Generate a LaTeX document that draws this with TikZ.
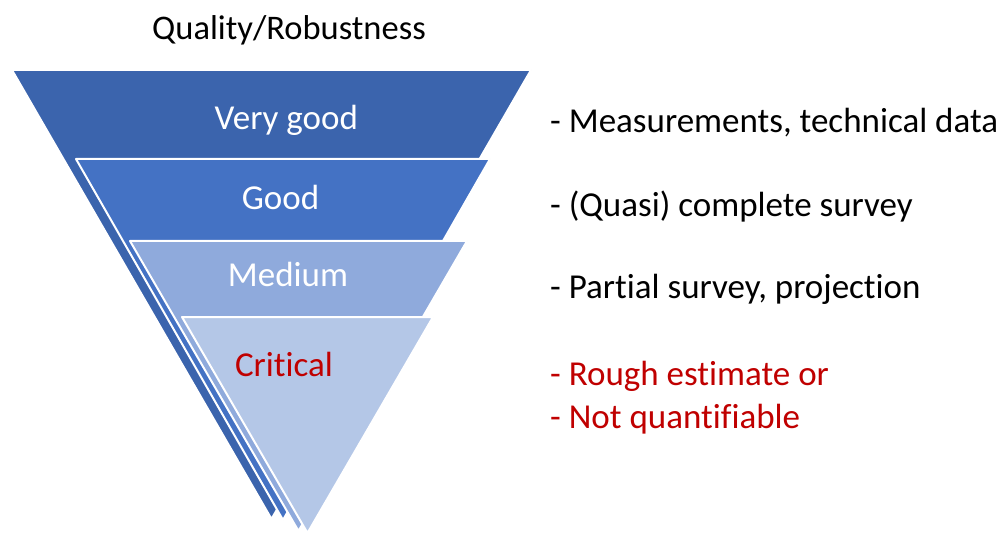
\documentclass[tikz,border=0pt]{standalone}
\usepackage{fontspec}
\setmainfont{Carlito}[Ligatures=NoCommon]
\definecolor{cA}{HTML}{3B64AD}
\definecolor{cB}{HTML}{4472C4}
\definecolor{cC}{HTML}{8FAADC}
\definecolor{cD}{HTML}{B4C7E7}
\definecolor{cRed}{HTML}{C00000}
\tikzset{
  tri/.style={draw=white, line width=2pt, line join=round},
  lvl/.style={anchor=base, inner sep=0pt, font=\fontsize{35}{42}\selectfont},
  desc/.style={anchor=base west, inner sep=0pt, font=\fontsize{35}{42}\selectfont},
}
\begin{document}
\begin{tikzpicture}[x=1pt,y=-1pt]
\useasboundingbox (0,0) rectangle (1000,534);
\fill[white] (0,0) rectangle (1000,534);
% funnel layers
\filldraw[tri, fill=cA] (12,70) -- (531,70) -- (271.5,519) -- cycle;
\filldraw[tri, fill=cB] (76,159) -- (490,159) -- (283,520) -- cycle;
\filldraw[tri, fill=cC] (130,241) -- (467,241) -- (298.5,531) -- cycle;
\filldraw[tri, fill=cD] (182,317) -- (433,317) -- (307.5,533) -- cycle;
% title
\node[lvl, font=\fontsize{34.5}{41}\selectfont] (title) at (289,39.3) {Quality/Robustness};
% level labels
\node[lvl, text=white] (l1) at (286.3,129.3) {Very good};
\node[lvl, text=white] (l2) at (280.5,210) {Good};
\node[lvl, text=white] (l3) at (288,286.7) {Medium};
\node[lvl, text=cRed] (l4) at (284,376) {Critical};
% descriptions
\node[desc] (d1) at (550,132.7) {- Measurements, technical data};
\node[desc] (d2) at (550,216.7) {- (Quasi) complete survey};
\node[desc] (d3) at (550,298.3) {- Partial survey, projection};
\node[desc, text=cRed] (d4) at (550,385) {- Rough estimate or};
\node[desc, text=cRed] (d5) at (550,428.3) {- Not quantifiable};
\end{tikzpicture}
\end{document}
